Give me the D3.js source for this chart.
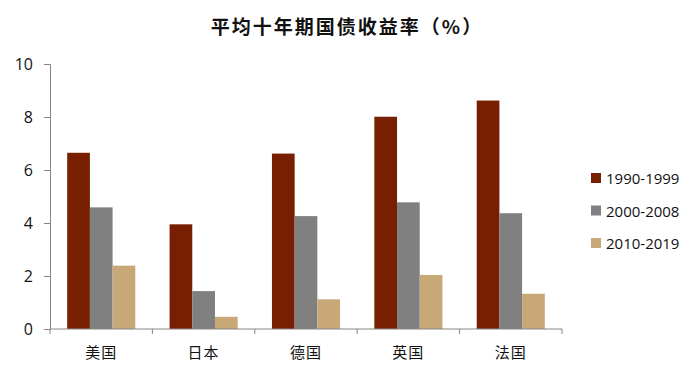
<!DOCTYPE html>
<html>
<head>
<meta charset="utf-8">
<script src="https://cdn.jsdelivr.net/npm/d3@7"></script>
<style>
  body { margin: 0; background: #fff; }
  svg text { fill: #111; }
</style>
</head>
<body>
<div id="chart"></div>
<script>
// data
const countries = ["美国", "日本", "德国", "英国", "法国"];
const seriesNames = ["1990-1999", "2000-2008", "2010-2019"];
const v1990 = [6.65, 3.95, 6.62, 8.01, 8.62];
const v2000 = [4.59, 1.43, 4.26, 4.78, 4.37];
const v2010 = [2.39, 0.46, 1.12, 2.04, 1.33];
const yTicks = [0, 2, 4, 6, 8, 10];
const colors = ["#771f00", "#808080", "#c9a877"];

const W = 700, H = 376;
const margin = {top: 64, left: 50, right: 138, bottom: 47};
const width = W - margin.left - margin.right;
const height = H - margin.top - margin.bottom;

const svg = d3.select("#chart")
    .append("svg")
    .attr("width", W)
    .attr("height", H);

svg.append("text")
    .attr("x", 347)
    .attr("y", 34)
    .attr("text-anchor", "middle")
    .style("font-family", "'Noto Sans CJK SC'")
    .style("font-size", "19px")
    .style("font-weight", "bold")
    .style("letter-spacing", "2px")
    .text("平均十年期国债收益率（%）");

const g = svg.append("g")
    .attr("transform", `translate(${margin.left},${margin.top})`);

const values = [v1990, v2000, v2010];

const x = d3.scaleBand()
    .domain(countries)
    .range([0, width])
    .paddingInner(0.335)
    .paddingOuter(0.168);
const xs = d3.scaleBand()
    .domain(seriesNames)
    .range([0, x.bandwidth()]);
const y = d3.scaleLinear()
    .domain([0, 10])
    .range([height, 0]);

// bars
seriesNames.forEach(function(name, i) {
    g.append("g")
        .selectAll("rect")
        .data(values[i])
        .join("rect")
        .attr("x", (d, j) => x(countries[j]) + xs(name))
        .attr("y", d => y(d))
        .attr("width", xs.bandwidth())
        .attr("height", d => height - y(d))
        .attr("fill", colors[i]);
});

// y axis
const yAxis = g.append("g")
    .call(d3.axisLeft(y).tickValues(yTicks).tickSize(6).tickPadding(11));
yAxis.selectAll("text")
    .style("font-family", "'Open Sans', 'Liberation Sans'")
    .style("font-size", "16px");

// x axis: ticks at category boundaries
const step = width / countries.length;
const xAxis = g.append("g")
    .attr("transform", `translate(0,${height})`);
xAxis.append("line")
    .attr("x1", 0).attr("x2", width)
    .attr("stroke", "#868686");
d3.range(countries.length + 1).forEach(function(i) {
    xAxis.append("line")
        .attr("x1", i * step).attr("x2", i * step)
        .attr("y1", 0).attr("y2", 5)
        .attr("stroke", "#868686");
});
xAxis.selectAll("text.cat")
    .data(countries)
    .join("text")
    .attr("class", "cat")
    .attr("x", d => x(d) + x.bandwidth() / 2)
    .attr("y", 29)
    .attr("text-anchor", "middle")
    .style("font-family", "'Noto Sans CJK SC'")
    .style("font-size", "15px")
    .style("letter-spacing", "1px")
    .text(d => d);

g.selectAll(".domain, .tick line").attr("stroke", "#868686");

// legend
const legend = svg.append("g")
    .attr("transform", "translate(591,178)");
seriesNames.forEach(function(name, i) {
    legend.append("rect")
        .attr("x", 0)
        .attr("y", i * 32.5 - 5)
        .attr("width", 10)
        .attr("height", 10)
        .attr("fill", colors[i]);
    legend.append("text")
        .attr("x", 15)
        .attr("y", i * 32.5)
        .attr("dominant-baseline", "central")
        .style("font-family", "'Open Sans', 'Liberation Sans'")
        .style("font-size", "15px")
        .text(name);
});
</script>
</body>
</html>
